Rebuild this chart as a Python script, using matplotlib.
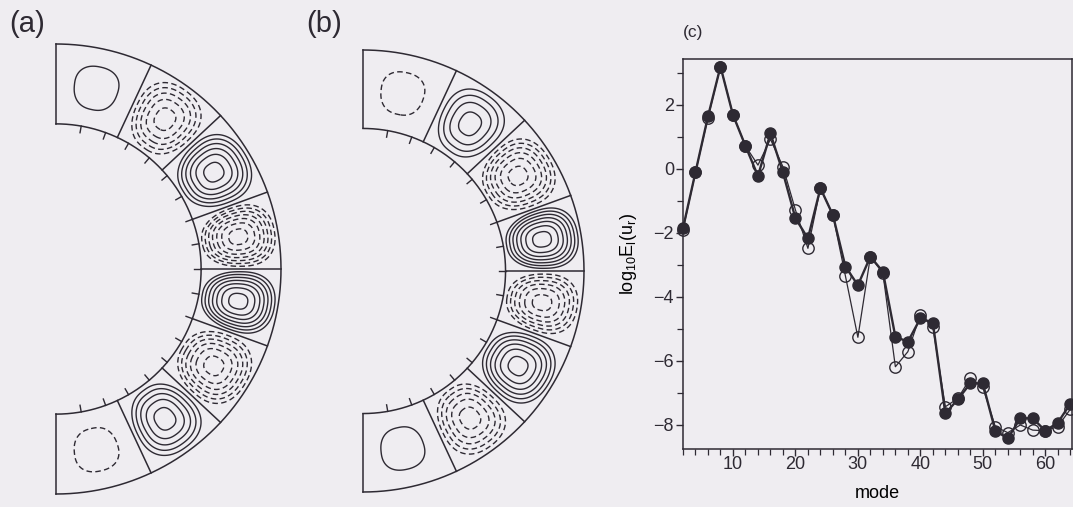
import numpy as np
import matplotlib.pyplot as plt
from matplotlib.ticker import MultipleLocator

W, H = 1073, 507
INK = "#2e2a33"
BG = "#efedf1"

plt.rcParams["font.family"] = ["Liberation Sans", "DejaVu Sans"]
plt.rcParams["mathtext.fontset"] = "custom"
plt.rcParams["mathtext.rm"] = "Liberation Sans"
plt.rcParams["text.color"] = INK

# ─── data ────────────────────────────────────────────────────────────────

modes = list(range(2, 65, 2))
energy_filled = [-1.85, -0.10, 1.64, 3.20, 1.69, 0.72, -0.22, 1.11, -0.11, -1.54,
                 -2.17, -0.60, -1.44, -3.05, -3.63, -2.74, -3.21, -5.24, -5.40, -4.67,
                 -4.80, -7.64, -7.20, -6.70, -6.70, -8.18, -8.42, -7.79, -7.79, -8.18,
                 -7.93, -7.34]
energy_open = [-1.90, -0.10, 1.60, 3.20, 1.70, 0.72, 0.12, 0.93, 0.07, -1.28,
               -2.48, -0.60, -1.44, -3.34, -5.26, -2.74, -3.25, -6.18, -5.71, -4.56,
               -4.93, -7.43, -7.17, -6.54, -6.82, -8.05, -8.24, -8.00, -8.16, -8.18,
               -8.05, -7.51]

# cell boundaries of the convection pattern (degrees, top to bottom)
cell_edges_deg = [90, 65, 43, 20, 0, -20, -43, -65, -90]
# signed streamfunction amplitude of each cell, top to bottom
amp_a = [0.19, -0.69, 0.81, -0.94, 0.94, -0.81, 0.69, -0.19]
amp_b = [-0.19, 0.56, -0.81, 0.94, -0.81, 0.81, -0.69, 0.19]
tick_deg = list(range(-80, 81, 10))

R_IN = 0.645
LEVEL_STEP = 0.125


def px_axes(fig, left, top, width, height):
    return fig.add_axes([left / W, 1 - (top + height) / H, width / W, height / H])


def draw_shell(ax, amps):
    th = np.radians(np.linspace(-90, 90, 1201))
    r = np.linspace(R_IN, 1.0, 201)
    T, Rr = np.meshgrid(th, r)
    edges = np.radians(cell_edges_deg[::-1])
    phase = np.interp(T, edges, np.arange(len(edges)))
    idx = np.clip(np.floor(phase).astype(int), 0, len(amps) - 1)
    u = 2 * (phase - idx) - 1
    v = 2 * (Rr - R_IN) / (1.0 - R_IN) - 1
    rho = (np.abs(u) ** 2.4 + np.abs(v) ** 2.4) ** (1 / 2.4)
    amp = np.array(amps[::-1])[idx]
    psi = amp * np.cos(0.5 * np.pi * np.clip(rho, 0, 1))

    levels = [LEVEL_STEP * k for k in range(-8, 9) if k != 0]
    styles = [(0, (4, 2.4)) if lv < 0 else "solid" for lv in levels]
    ax.contour(Rr * np.cos(T), Rr * np.sin(T), psi, levels=levels,
               colors=INK, linewidths=1.0, linestyles=styles)

    # outline
    arc = np.radians(np.linspace(-90, 90, 400))
    for rad in (R_IN, 1.0):
        ax.plot(rad * np.cos(arc), rad * np.sin(arc), color=INK, lw=1.1)
    for d in cell_edges_deg:
        a = np.radians(d)
        ax.plot([R_IN * np.cos(a), np.cos(a)], [R_IN * np.sin(a), np.sin(a)],
                color=INK, lw=1.1)
    for d in tick_deg:
        a = np.radians(d)
        ax.plot([R_IN * np.cos(a), (R_IN - 0.03) * np.cos(a)],
                [R_IN * np.sin(a), (R_IN - 0.03) * np.sin(a)], color=INK, lw=1.0)

    ax.set_xlim(-0.05, 1.05)
    ax.set_ylim(-1.05, 1.05)
    ax.axis("off")


fig = plt.figure(figsize=(W / 100, H / 100), dpi=100, facecolor=BG)

# ─── (a) and (b): half shells ────────────────────────────────────────────

for (cx, cy, R), amps in (((56, 269, 225), amp_a), ((363, 271, 221), amp_b)):
    ax = px_axes(fig, cx - 0.05 * R, cy - 1.05 * R, 1.1 * R, 2.1 * R)
    ax.patch.set_alpha(0)
    draw_shell(ax, amps)

fig.text(9 / W, 1 - 24 / H, "(a)", fontsize=21, va="center", ha="left")
fig.text(306 / W, 1 - 24 / H, "(b)", fontsize=21, va="center", ha="left")

# ─── (c): energy spectrum ────────────────────────────────────────────────

ax = px_axes(fig, 683, 59.5, 388.5, 389.5)
ax.set_facecolor(BG)
ax.plot(modes, energy_open, color=INK, lw=0.9, marker="o", ms=8.2,
        mfc="none", mec=INK, mew=1.0, clip_on=False, zorder=3)
ax.plot(modes, energy_filled, color=INK, lw=1.7, marker="o", ms=8.0,
        mfc=INK, mec=INK, clip_on=False, zorder=4)

ax.set_xlim(2, 64.2)
ax.set_ylim(-8.75, 3.42)
ax.xaxis.set_major_locator(MultipleLocator(10))
ax.xaxis.set_minor_locator(MultipleLocator(2))
ax.yaxis.set_major_locator(MultipleLocator(2))
ax.yaxis.set_minor_locator(MultipleLocator(1))
ax.tick_params(which="both", direction="out", colors=INK, labelsize=13,
               top=False, right=False)
ax.tick_params(axis="x", pad=0)
ax.tick_params(axis="y", pad=1.5)
ax.tick_params(which="major", length=5, width=1.0)
ax.tick_params(which="minor", length=4, width=0.9)
for sp in ax.spines.values():
    sp.set_color(INK)
    sp.set_linewidth(1.1)

ax.set_xlabel("mode", fontsize=13, labelpad=9)
ax.set_ylabel(r"log$_{\mathregular{10}}$E$_\mathregular{l}$(u$_\mathregular{r}$)",
              fontsize=13, labelpad=10)
fig.text(683 / W, 1 - 33 / H, "(c)", fontsize=12.5, va="center", ha="left")

fig.savefig("out.png", dpi=100, facecolor=BG)
